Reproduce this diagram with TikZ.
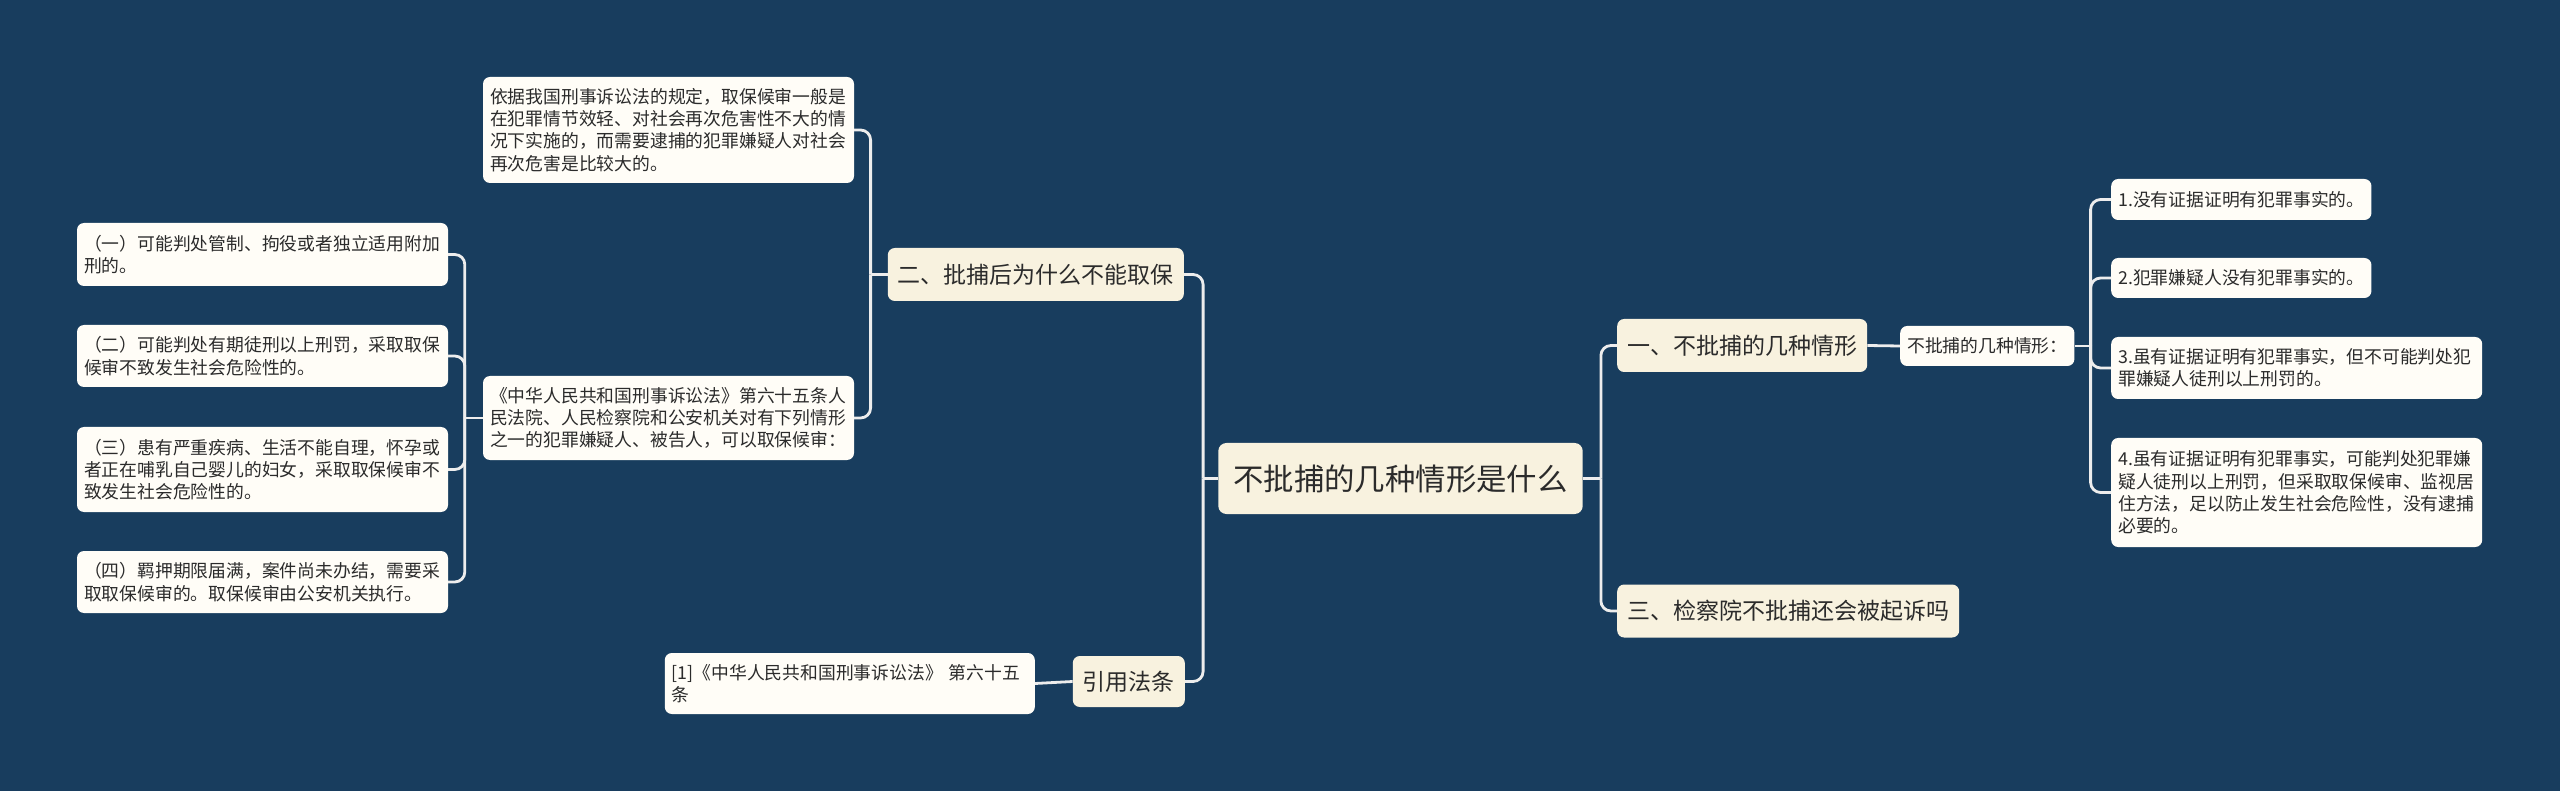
\documentclass[tikz,border=0pt]{standalone}
\usepackage{fontspec}
\newfontfamily\cjk{Noto Sans CJK SC}
\definecolor{bgcol}{HTML}{183D5E}
\definecolor{linecol}{HTML}{EDEDED}
\definecolor{topiccol}{HTML}{F8F2DF}
\definecolor{leafcol}{HTML}{FFFDF7}
\definecolor{textcol}{HTML}{2B2B2B}
\begin{document}
\begin{tikzpicture}[x=1pt,y=-1pt,
  conn/.style={draw=linecol, line width=2.8pt, rounded corners=10pt},
  leaf/.style={fill=leafcol, rounded corners=7pt, text=textcol,
    font=\cjk\fontsize{17.8}{22.3}\selectfont, inner xsep=7pt, inner ysep=3pt, align=left},
  wleaf/.style={leaf, text width=357pt},
  topic/.style={fill=topiccol, rounded corners=7pt, text=textcol,
    font=\cjk\fontsize{23}{27}\selectfont, inner xsep=10pt, inner ysep=3pt, minimum height=53pt},
  rootnode/.style={fill=topiccol, rounded corners=8pt, text=textcol,
    font=\cjk\fontsize{30.4}{34}\selectfont, inner xsep=15pt, inner ysep=3pt, minimum height=71pt}]
\useasboundingbox (0,0) rectangle (2560,791);
\fill[bgcol] (0,0) rectangle (2560,791);

% root
\node[rootnode] (root) at (1400.5,478.5) {不批捕的几种情形是什么};

% topics
\node[topic, anchor=east] (t2) at (1184,274.5) {二、批捕后为什么不能取保};
\node[topic, anchor=east, minimum height=51pt] (t4) at (1185,681.5) {引用法条};
\node[topic, anchor=west] (t1) at (1617,345.5) {一、不批捕的几种情形};
\node[topic, anchor=west] (t3) at (1617,611) {三、检察院不批捕还会被起诉吗};

% left leaves
\node[wleaf, minimum height=106pt] (A) at (668.5,130) {依据我国刑事诉讼法的规定，取保候审一般是\\在犯罪情节效轻、对社会再次危害性不大的情\\况下实施的，而需要逮捕的犯罪嫌疑人对社会\\再次危害是比较大的。};
\node[wleaf, minimum height=84pt] (B) at (668.5,418) {《中华人民共和国刑事诉讼法》第六十五条人\\民法院、人民检察院和公安机关对有下列情形\\之一的犯罪嫌疑人、被告人，可以取保候审：};
\node[wleaf, minimum height=63pt] (L1) at (262.5,254.5) {（一）可能判处管制、拘役或者独立适用附加\\刑的。};
\node[wleaf, minimum height=62pt] (L2) at (262.5,356) {（二）可能判处有期徒刑以上刑罚，采取取保\\候审不致发生社会危险性的。};
\node[wleaf, minimum height=85pt] (L3) at (262.5,469.5) {（三）患有严重疾病、生活不能自理，怀孕或\\者正在哺乳自己婴儿的妇女，采取取保候审不\\致发生社会危险性的。};
\node[wleaf, minimum height=62pt] (L4) at (262.5,582) {（四）羁押期限届满，案件尚未办结，需要采\\取取保候审的。取保候审由公安机关执行。};
\node[leaf, text width=356pt, anchor=east, minimum height=61pt] (cite) at (1035,683.5) {[1]《中华人民共和国刑事诉讼法》 第六十五\\条};

% right leaves
\node[leaf, anchor=west, minimum height=40pt] (sub) at (1900,346) {不批捕的几种情形：};
\node[leaf, anchor=west, minimum height=41pt] (R1) at (2111,199.5) {1.没有证据证明有犯罪事实的。};
\node[leaf, anchor=west, minimum height=40pt] (R2) at (2111,278) {2.犯罪嫌疑人没有犯罪事实的。};
\node[wleaf, anchor=west, minimum height=62pt] (R3) at (2111,368) {3.虽有证据证明有犯罪事实，但不可能判处犯\\罪嫌疑人徒刑以上刑罚的。};
\node[wleaf, anchor=west, minimum height=109pt] (R4) at (2111,492.5) {4.虽有证据证明有犯罪事实，可能判处犯罪嫌\\疑人徒刑以上刑罚，但采取取保候审、监视居\\住方法，足以防止发生社会危险性，没有逮捕\\必要的。};

% junction coordinates
\coordinate (jRootL) at ([xshift=-15pt]root.west);
\coordinate (jRootR) at ([xshift=18pt]root.east);
\coordinate (jT2) at ([xshift=-17pt]t2.west);
\coordinate (jB) at ([xshift=-18pt]B.west);
\coordinate (jSub) at ([xshift=16pt]sub.east);

% connectors
\draw[conn] (root.west) -- (jRootL);
\draw[conn] (jRootL) |- (t2.east);
\draw[conn] (jRootL) |- (t4.east);
\draw[conn] (t2.west) -- (jT2);
\draw[conn] (jT2) |- (A.east);
\draw[conn] (jT2) |- (B.east);
\draw[conn] (B.west) -- (jB);
\draw[conn] (jB) |- (L1.east);
\draw[conn] (jB) |- (L2.east);
\draw[conn] (jB) |- (L3.east);
\draw[conn] (jB) |- (L4.east);
\draw[conn] (t4.west) -- (cite.east);
\draw[conn] (root.east) -- (jRootR);
\draw[conn] (jRootR) |- (t1.west);
\draw[conn] (jRootR) |- (t3.west);
\draw[conn] (t1.east) -- (sub.west);
\draw[conn] (sub.east) -- (jSub);
\draw[conn] (jSub) |- (R1.west);
\draw[conn] (jSub) |- (R2.west);
\draw[conn] (jSub) |- (R3.west);
\draw[conn] (jSub) |- (R4.west);
\end{tikzpicture}
\end{document}
